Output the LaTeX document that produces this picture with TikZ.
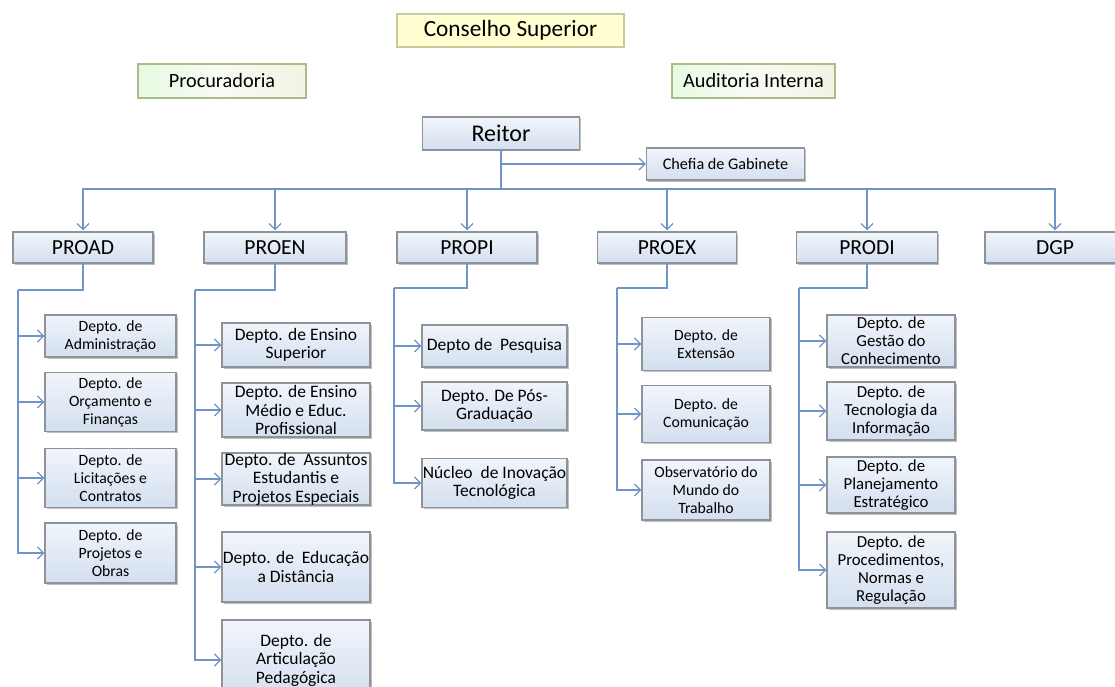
\documentclass[tikz,border=0pt]{standalone}
\usepackage{fontspec}
\setmainfont{Carlito}
\usetikzlibrary{arrows.meta,shadows}
\definecolor{linec}{HTML}{6F94C8}
\definecolor{boxtop}{HTML}{F1F5FB}
\definecolor{boxbot}{HTML}{D3DFEF}
\definecolor{boxedge}{HTML}{8E939A}
\definecolor{yelfill}{HTML}{FFFFD2}
\definecolor{yeledge}{HTML}{C9C99A}
\definecolor{grnfill}{HTML}{F0F4E3}
\definecolor{grnedge}{HTML}{A9BD8A}
\tikzset{
  bluebox/.style={draw=boxedge, line width=1.2pt, top color=boxtop, bottom color=boxbot,
    inner sep=0pt, align=center, drop shadow={shadow xshift=1.5pt, shadow yshift=-1.5pt, opacity=0.25, fill=black}},
  topbox/.style={bluebox, minimum height=31pt, font=\fontsize{21.5}{24}\selectfont},
  childbox/.style={bluebox, font=\fontsize{15.7}{18}\selectfont},
  bigchild/.style={bluebox, font=\fontsize{17.5}{18.5}\selectfont},
  midchild/.style={bluebox, font=\fontsize{16.8}{18}\selectfont},
  greenbox/.style={draw=grnedge, line width=1.2pt, left color=grnfill!80!green!40, right color=grnfill,
    middle color=white!60!grnfill, minimum height=34pt, font=\fontsize{20.3}{24}\selectfont},
  conn/.style={draw=linec, line width=1.6pt},
  arr/.style={conn, -{Straight Barb[length=6pt,width=12pt,line width=1.3pt]}},
}
\begin{document}
\begin{tikzpicture}[x=1pt,y=-1pt]
\clip (0,0) rectangle (1115,687);
\fill[white] (0,0) rectangle (1115,687);
% upper boxes
\node[draw=yeledge, line width=1.2pt, fill=yelfill, minimum width=227pt, minimum height=33pt,
  font=\fontsize{23.3}{26}\selectfont] (cons) at (510.5,30.5) {Conselho Superior};
\node[greenbox, minimum width=168pt] (proc) at (222,81) {Procuradoria};
\node[greenbox, minimum width=163pt] (aud) at (753.5,81) {Auditoria Interna};
\node[bluebox, minimum width=157pt, minimum height=33pt, font=\fontsize{24}{26}\selectfont] (reitor) at (501,133.5) {Reitor};
\node[bluebox, minimum width=158pt, minimum height=32pt, font=\fontsize{16.2}{18}\selectfont] (chefia) at (725.5,164) {Chefia de Gabinete};
% pro-reitorias
\node[topbox, minimum width=140pt] (proad) at (83,247.5) {PROAD};
\node[topbox, minimum width=142pt] (proen) at (275,247.5) {PROEN};
\node[topbox, minimum width=140pt] (propi) at (467,247.5) {PROPI};
\node[topbox, minimum width=139pt] (proex) at (667,247.5) {PROEX};
\node[topbox, minimum width=141pt] (prodi) at (867,247.5) {PRODI};
\node[topbox, minimum width=140pt] (dgp) at (1055,247.5) {DGP};
% connectors from Reitor
\coordinate (rb) at (501,164);
\coordinate (bus) at (501,189);
\draw[conn] (reitor.south) -- (bus);
\draw[arr] (rb) -- (chefia.west);
\foreach \n in {proad,proen,propi,proex,prodi,dgp}{
  \draw[arr, shorten >=1pt] (bus) -| (\n.north);
}
% PROAD children
\node[childbox, minimum width=131pt, minimum height=42pt] (a1) at (110.5,336) {Depto. de\\Administração};
\node[childbox, minimum width=131pt, minimum height=59pt] (a2) at (110.5,402) {Depto. de\\Orçamento e\\Finanças};
\node[childbox, minimum width=131pt, minimum height=59pt] (a3) at (110.5,478) {Depto. de\\Licitações e\\Contratos};
\node[childbox, minimum width=131pt, minimum height=60pt] (a4) at (110.5,553) {Depto. de\\Projetos e\\Obras};
\coordinate (aL) at (18,290);
\draw[conn] (proad.south) |- (aL);
\foreach \c in {a1,a2,a3,a4}{ \draw[arr] (aL) |- (\c.west); }
% PROEN children
\node[bigchild, minimum width=148pt, minimum height=44pt] (e1) at (296,345) {Depto. de Ensino\\Superior};
\node[bigchild, minimum width=148pt, minimum height=54pt] (e2) at (296,410) {Depto. de Ensino\\Médio e Educ.\\Profissional};
\node[bigchild, minimum width=148pt, minimum height=52pt] (e3) at (296,479) {Depto. de~ Assuntos\\Estudantis e\\Projetos Especiais};
\node[bigchild, minimum width=148pt, minimum height=70pt] (e4) at (296,567) {Depto. de~ Educação\\a Distância};
\node[bigchild, minimum width=148pt, minimum height=80pt] (e5) at (296,660) {Depto. de\\Articulação\\Pedagógica};
\coordinate (eL) at (195,290);
\draw[conn] (proen.south) |- (eL);
\foreach \c in {e1,e2,e3,e4,e5}{ \draw[arr] (eL) |- (\c.west); }
% PROPI children
\node[bigchild, minimum width=145pt, minimum height=42pt] (p1) at (494.5,346) {Depto de~ Pesquisa};
\node[bigchild, minimum width=145pt, minimum height=48pt] (p2) at (494.5,406) {Depto. De Pós-\\Graduação};
\node[bigchild, minimum width=145pt, minimum height=49pt] (p3) at (494.5,483) {Núcleo~ de Inovação\\Tecnológica};
\coordinate (pL) at (394,288);
\draw[conn] (propi.south) |- (pL);
\foreach \c in {p1,p2,p3}{ \draw[arr] (pL) |- (\c.west); }
% PROEX children
\node[childbox, minimum width=128pt, minimum height=53pt] (x1) at (706,344) {Depto. de\\Extensão};
\node[childbox, minimum width=128pt, minimum height=57pt] (x2) at (706,414) {Depto. de\\Comunicação};
\node[childbox, minimum width=128pt, minimum height=60pt] (x3) at (706,490) {Observatório do\\Mundo do\\Trabalho};
\coordinate (xL) at (617,288);
\draw[conn] (proex.south) |- (xL);
\foreach \c in {x1,x2,x3}{ \draw[arr] (xL) |- (\c.west); }
% PRODI children
\node[midchild, minimum width=128pt, minimum height=52pt] (d1) at (891,341) {Depto. de\\Gestão do\\Conhecimento};
\node[midchild, minimum width=128pt, minimum height=58pt] (d2) at (891,411) {Depto. de\\Tecnologia da\\Informação};
\node[midchild, minimum width=128pt, minimum height=56pt] (d3) at (891,485) {Depto. de\\Planejamento\\Estratégico};
\node[midchild, minimum width=128pt, minimum height=76pt] (d4) at (891,570) {Depto. de\\Procedimentos,\\Normas e\\Regulação};
\coordinate (dL) at (799,288);
\draw[conn] (prodi.south) |- (dL);
\foreach \c in {d1,d2,d3,d4}{ \draw[arr] (dL) |- (\c.west); }
\end{tikzpicture}
\end{document}
